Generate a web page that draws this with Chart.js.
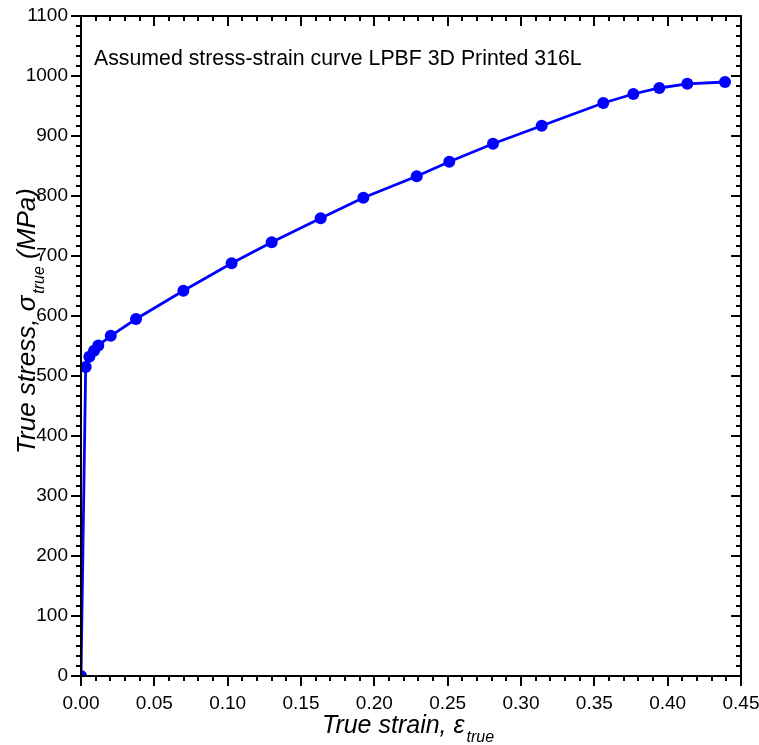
<!DOCTYPE html>
<html>
<head>
<meta charset="utf-8">
<script src="https://cdn.jsdelivr.net/npm/chart.js@4.4.1/dist/chart.umd.min.js"></script>
<style>html,body{margin:0;padding:0;background:#fff}</style>
</head>
<body>
<canvas id="c" width="759" height="745"></canvas>
<script>
// ---- data ----
const strain = [0, 0.0032, 0.0057, 0.0089, 0.0118, 0.0203, 0.0375, 0.0698, 0.1027, 0.1300, 0.1634,
                0.1925, 0.2289, 0.2511, 0.2809, 0.3141, 0.3561, 0.3766, 0.3943, 0.4134, 0.4391];
const stress = [0, 515, 532, 542, 551, 567, 595, 642, 688, 723, 763,
                797, 833, 857, 887, 917, 955, 970, 980, 987, 990];
const xTickValues = [0, 0.05, 0.10, 0.15, 0.20, 0.25, 0.30, 0.35, 0.40, 0.45];
const xTickLabels = ['0.00','0.05','0.10','0.15','0.20','0.25','0.30','0.35','0.40','0.45'];
const yTickValues = [0,100,200,300,400,500,600,700,800,900,1000,1100];
const yTickLabels = ['0','100','200','300','400','500','600','700','800','900','1000','1100'];
const xMinorPerMajor = 5;
const yMinorPerMajor = 6;
const chartTitle = 'Assumed stress-strain curve LPBF 3D Printed 316L';
const xTitleMain = 'True strain, \u03b5', xTitleSub = 'true', xTitleTail = '';
const yTitleMain = 'True stress, \u03c3', yTitleSub = 'true', yTitleTail = ' (MPa)';

const FONT = '"Liberation Sans", Arial, sans-serif';

const framePlugin = {
  id: 'frameTicks',
  afterDraw(chart) {
    const {ctx, chartArea: a, scales: {x, y}} = chart;
    ctx.save();
    ctx.strokeStyle = '#000';
    ctx.lineWidth = 2;
    ctx.strokeRect(a.left, a.top, a.right - a.left, a.bottom - a.top);
    // x ticks (bottom outward, top inward)
    const xs = xTickValues[1] - xTickValues[0];
    const nX = (xTickValues.length - 1) * xMinorPerMajor;
    ctx.beginPath();
    for (let i = 0; i <= nX; i++) {
      const v = xTickValues[0] + i * xs / xMinorPerMajor;
      const px = Math.round(x.getPixelForValue(v));
      const len = i % xMinorPerMajor === 0 ? 10 : 5;
      ctx.moveTo(px, a.bottom); ctx.lineTo(px, a.bottom + len);
      ctx.moveTo(px, a.top); ctx.lineTo(px, a.top + len);
    }
    // y ticks (left outward, right inward)
    const ys = yTickValues[1] - yTickValues[0];
    const nY = (yTickValues.length - 1) * yMinorPerMajor;
    for (let i = 0; i <= nY; i++) {
      const v = yTickValues[0] + i * ys / yMinorPerMajor;
      const py = Math.round(y.getPixelForValue(v));
      const len = i % yMinorPerMajor === 0 ? 10 : 5;
      ctx.moveTo(a.left - len, py); ctx.lineTo(a.left, py);
      ctx.moveTo(a.right - len, py); ctx.lineTo(a.right, py);
    }
    ctx.stroke();

    // chart title inside plot
    ctx.fillStyle = '#000';
    ctx.textBaseline = 'alphabetic';
    ctx.textAlign = 'left';
    ctx.font = '21.3px ' + FONT;
    ctx.fillText(chartTitle, a.left + 13, a.top + 49);

    // axis titles with subscripts
    function drawTitle(main, sub, tail, cx, cy, rot, bigSize) {
      ctx.save();
      ctx.translate(cx, cy);
      if (rot) ctx.rotate(-Math.PI / 2);
      const big = 'italic ' + bigSize + 'px ' + FONT, small = 'italic 16px ' + FONT;
      ctx.font = big; const w1 = ctx.measureText(main).width; const w3 = ctx.measureText(tail).width;
      ctx.font = small; const w2 = ctx.measureText(sub).width;
      let sx = -(w1 + w2 + w3 + 2) / 2;
      ctx.font = big; ctx.fillText(main, sx, 0); sx += w1 + 2;
      ctx.font = small; ctx.fillText(sub, sx, 9); sx += w2;
      ctx.font = big; ctx.fillText(tail, sx, 0);
      ctx.restore();
    }
    drawTitle(xTitleMain, xTitleSub, xTitleTail, (a.left + a.right) / 2 - 3, a.bottom + 57, false, 25);
    drawTitle(yTitleMain, yTitleSub, yTitleTail, 35, a.top + 305, true, 26);
    ctx.restore();
  }
};

new Chart(document.getElementById('c'), {
  type: 'line',
  data: {
    datasets: [{
      data: strain.map((s, i) => ({x: s, y: stress[i]})),
      borderColor: '#0000ff',
      backgroundColor: '#0000ff',
      borderWidth: 2.8,
      pointRadius: 6,
      pointBorderWidth: 0,
      pointBackgroundColor: '#0000ff',
      tension: 0,
      fill: false
    }]
  },
  options: {
    responsive: false,
    animation: false,
    devicePixelRatio: 1,
    layout: {padding: {top: 16, right: 18, left: 0, bottom: 0}},
    plugins: {legend: {display: false}, tooltip: {enabled: false}, title: {display: false}},
    scales: {
      x: {
        type: 'linear', min: 0, max: 0.45,
        afterBuildTicks: s => { s.ticks = xTickValues.map(v => ({value: v})); },
        afterFit: s => { s.height = 69; s.paddingLeft = 0; s.paddingRight = 0; },
        grid: {display: false, drawTicks: false, tickLength: 0},
        border: {display: false},
        ticks: {
          autoSkip: false, maxRotation: 0, padding: 16, color: '#000',
          font: {family: FONT, size: 19},
          callback: (v, i) => xTickLabels[i]
        }
      },
      y: {
        type: 'linear', min: 0, max: 1100,
        afterBuildTicks: s => { s.ticks = yTickValues.map(v => ({value: v})); },
        afterFit: s => { s.width = 81; s.paddingTop = 0; s.paddingBottom = 0; },
        grid: {display: false, drawTicks: false, tickLength: 0},
        border: {display: false},
        ticks: {
          autoSkip: false, padding: 13, color: '#000',
          font: {family: FONT, size: 19},
          callback: (v, i) => yTickLabels[i]
        }
      }
    }
  },
  plugins: [framePlugin]
});
</script>
</body>
</html>
